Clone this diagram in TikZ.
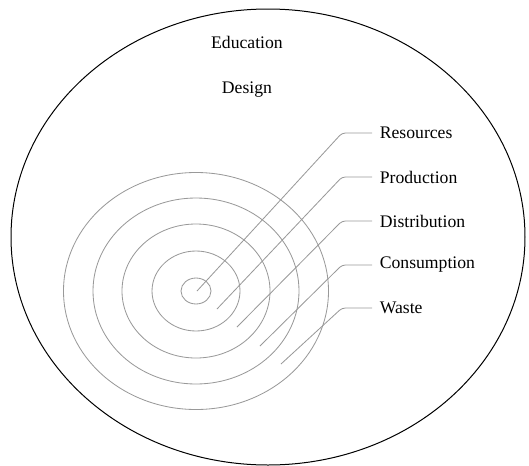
\documentclass[tikz,border=0pt]{standalone}
\usepackage{fontspec}
\setmainfont{Liberation Serif}
\usepackage{tikz}

\tikzset{
  ring/.style={draw=black!40, line width=0.5pt},
  lead/.style={draw=black!40, line width=0.5pt, rounded corners=2pt},
  lbl/.style={anchor=west, inner sep=4.5pt, font=\fontsize{10.6}{12}\selectfont}
}

\begin{document}
\begin{tikzpicture}[x=0.6pt, y=-0.6pt]
  \useasboundingbox (0,0) rectangle (529,466);
  \draw[line width=0.6pt] (268,237) ellipse [x radius=257, y radius=228];

  \node[lbl, anchor=center] (edu) at (247,42) {Education};
  \node[lbl, anchor=center] (design) at (247,90) {Design};

  \draw[ring] (196,291) ellipse [x radius=15, y radius=13];
  \draw[ring] (196,291) ellipse [x radius=44, y radius=40];
  \draw[ring] (196,291) ellipse [x radius=74, y radius=67];
  \draw[ring] (196,291) ellipse [x radius=103, y radius=93];
  \draw[ring] (196,291) ellipse [x radius=132.5, y radius=118.5];

  \node[lbl] (res) at (372,133) {Resources};
  \node[lbl] (prod) at (372,177) {Production};
  \node[lbl] (dist) at (372,221) {Distribution};
  \node[lbl] (cons) at (372,265) {Consumption};
  \node[lbl] (waste) at (372,308) {Waste};

  \coordinate (resend) at (197,291);
  \coordinate (prodend) at (217,309);
  \coordinate (distend) at (237,327);
  \coordinate (consend) at (260,346);
  \coordinate (wasteend) at (281,364);

  \draw[lead] (res.west) -- ++(-30,0) -- (resend);
  \draw[lead] (prod.west) -- ++(-30,0) -- (prodend);
  \draw[lead] (dist.west) -- ++(-30,0) -- (distend);
  \draw[lead] (cons.west) -- ++(-30,0) -- (consend);
  \draw[lead] (waste.west) -- ++(-30,0) -- (wasteend);
\end{tikzpicture}
\end{document}
